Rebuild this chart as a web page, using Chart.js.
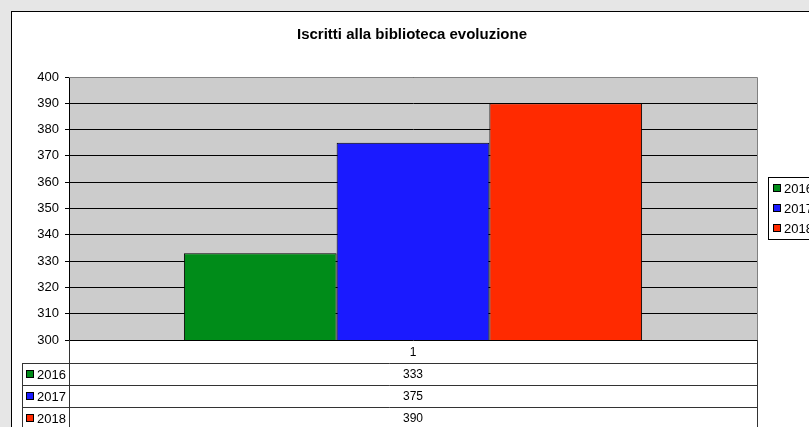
<!DOCTYPE html>
<html>
<head>
<meta charset="utf-8">
<script src="https://cdn.jsdelivr.net/npm/chart.js@4"></script>
<style>
  html, body { margin: 0; padding: 0; background: #e6e6e6; }
  #wrap { width: 809px; height: 427px; position: relative; }
</style>
</head>
<body>
<div id="wrap"><canvas id="chart" width="809" height="427"></canvas></div>
<script>
const titleText = "Iscritti alla biblioteca evoluzione";
const categories = ["1"];
const seriesNames = ["2016", "2017", "2018"];
const seriesValues = [[333], [375], [390]];
const seriesColors = ["#008c19", "#1a1aff", "#ff2a00"];
const yMin = 300, yMax = 400, yStep = 10;

const font = "Arial, 'Liberation Sans', sans-serif";

// background, title, legend, data table
const excelLook = {
  id: "excelLook",
  beforeDraw(chart) {
    const c = chart.ctx;
    const a = chart.chartArea;
    c.save();
    c.fillStyle = "#ffffff";
    c.fillRect(11, 11, 820, 430);
    c.strokeStyle = "#000000";
    c.lineWidth = 1;
    c.strokeRect(11.5, 11.5, 820, 430);
    c.fillStyle = "#cccccc";
    c.fillRect(a.left, a.top, a.right - a.left, a.bottom - a.top);
    c.restore();
  },
  afterDraw(chart) {
    const c = chart.ctx;
    const a = chart.chartArea;
    c.save();
    // plot border
    c.strokeStyle = "#808080";
    c.lineWidth = 1;
    c.beginPath();
    c.moveTo(a.left, a.top + 0.5);
    c.lineTo(a.right + 0.5, a.top + 0.5);
    c.lineTo(a.right + 0.5, a.bottom);
    c.stroke();

    // title
    c.fillStyle = "#000";
    c.font = "bold 15px " + font;
    c.textAlign = "center";
    c.textBaseline = "middle";
    c.fillText(titleText, 412, 35);

    // legend
    c.strokeStyle = "#000";
    c.strokeRect(768.5, 177.5, 60, 62);
    c.font = "13px " + font;
    c.textAlign = "left";
    seriesNames.forEach((n, i) => {
      const y = 188 + i * 20;
      c.fillStyle = seriesColors[i];
      c.fillRect(773, y - 4, 8, 8);
      c.strokeRect(773.5, y - 3.5, 7, 7);
      c.fillStyle = "#000";
      c.fillText(n, 784, y + 1);
    });

    // data table
    const xs = chart.scales.x;
    const rowTops = [340, 363, 385, 407, 429];
    const left = a.left, right = a.right;
    c.fillStyle = "#ffffff";
    c.fillRect(left, rowTops[0] + 1, right - left, 90);
    c.fillRect(22, rowTops[1], left - 22, 70);
    c.strokeStyle = "#333";
    c.beginPath();
    for (let r = 1; r < rowTops.length; r++) {
      c.moveTo(22, rowTops[r] + 0.5);
      c.lineTo(right + 0.5, rowTops[r] + 0.5);
    }
    c.moveTo(left + 0.5, rowTops[0]);
    c.lineTo(left + 0.5, 427);
    c.moveTo(right + 0.5, rowTops[0]);
    c.lineTo(right + 0.5, 427);
    c.moveTo(22.5, rowTops[1]);
    c.lineTo(22.5, 427);
    c.stroke();

    c.fillStyle = "#000";
    c.font = "12px " + font;
    c.textAlign = "center";
    categories.forEach((cat, j) => {
      const cx = xs.getPixelForValue(j);
      c.fillText(cat, cx, (rowTops[0] + rowTops[1]) / 2 + 1);
      seriesValues.forEach((vals, i) => {
        c.fillText(String(vals[j]), cx, (rowTops[i + 1] + rowTops[i + 2]) / 2 + 1);
      });
    });
    c.textAlign = "left";
    c.font = "13px " + font;
    seriesNames.forEach((n, i) => {
      const y = (rowTops[i + 1] + rowTops[i + 2]) / 2;
      c.fillStyle = seriesColors[i];
      c.fillRect(26, y - 4, 8, 8);
      c.strokeStyle = "#000";
      c.strokeRect(26.5, y - 3.5, 7, 7);
      c.fillStyle = "#000";
      c.fillText(n, 37, y + 1);
    });
    c.restore();
  }
};

new Chart(document.getElementById("chart"), {
  type: "bar",
  data: {
    labels: categories,
    datasets: seriesNames.map((n, i) => ({
      label: n,
      data: seriesValues[i],
      backgroundColor: seriesColors[i],
      borderColor: "#000000",
      borderWidth: 1,
      barPercentage: 1,
      categoryPercentage: 0.666,
    })),
  },
  options: {
    responsive: false,
    animation: false,
    layout: { padding: { left: 0, top: 77, right: 52, bottom: 87 } },
    plugins: { legend: { display: false }, title: { display: false }, tooltip: { enabled: false } },
    scales: {
      x: { display: false },
      y: {
        min: yMin,
        max: yMax,
        ticks: { stepSize: yStep, color: "#000", font: { family: font, size: 13 }, padding: 6 },
        grid: { color: "#000", tickLength: 4, drawOnChartArea: true },
        border: { color: "#000" },
        afterFit(s) { s.width = 69; },
      },
    },
  },
  plugins: [excelLook],
});
</script>
</body>
</html>
